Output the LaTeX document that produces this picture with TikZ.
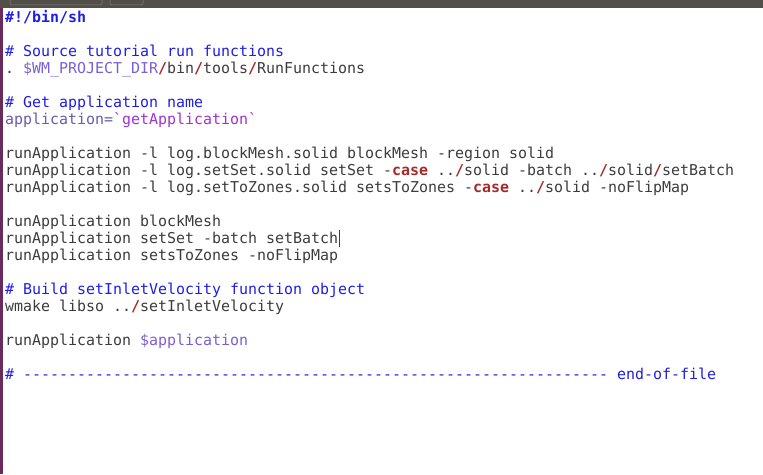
\documentclass[tikz,border=0pt]{standalone}
\usepackage{fontspec}
\setmonofont{DejaVu Sans Mono}
\usepackage{tikz}

\definecolor{barcolor}{HTML}{524E48}
\definecolor{tabcolor}{HTML}{6E6961}
\definecolor{sidebar}{HTML}{6B2A5E}
\definecolor{codetext}{HTML}{3C3C3C}
\definecolor{cmtblue}{HTML}{1E1EE6}
\definecolor{varslate}{HTML}{7A5FD6}
\definecolor{assignslate}{HTML}{6A5AB0}
\definecolor{substpurple}{HTML}{A032D2}
\definecolor{slashred}{HTML}{A52A2A}

\newcommand\cmt[1]{\textcolor{cmtblue}{#1}}
\newcommand\shvar[1]{\textcolor{varslate}{#1}}
\newcommand\assign[1]{\textcolor{assignslate}{#1}}
\newcommand\subst[1]{\textcolor{substpurple}{#1}}
\newcommand\kwd[1]{\textcolor{slashred}{\bfseries #1}}
\newcommand\slsh{\textcolor{slashred}{\bfseries /}}

\tikzset{
  codeline/.style = {anchor=base west, inner sep=0pt,
                     font=\ttfamily\fontsize{14.95}{17}\selectfont,
                     text=codetext},
  tabline/.style  = {draw=tabcolor, line width=1pt, rounded corners=2pt},
  cursor/.style   = {draw=codetext, line width=0.8pt}
}

\begin{document}
\begin{tikzpicture}[x=1pt,y=1pt]
  \useasboundingbox (0,0) rectangle (763,474);
  \fill[white] (0,0) rectangle (763,474);

  % editor title bar with tabs
  \fill[barcolor] (0,466) rectangle (763,474);
  \draw[tabline] (10,474) -- (10,469) -- (102,469) -- (102,474);
  \draw[tabline] (110,474) -- (110,469) -- (143,469) -- (143,474);
  \fill[sidebar] (0,0) rectangle (2.5,466);

  % script lines
  \node[codeline] (l1)  at (5,451) {\cmt{\bfseries \#!/bin/sh}};
  \node[codeline] (l3)  at (5,417) {\cmt{\# Source tutorial run functions}};
  \node[codeline] (l4)  at (5,400) {. \shvar{\$WM\_PROJECT\_DIR}\slsh bin\slsh tools\slsh RunFunctions};
  \node[codeline] (l6)  at (5,366) {\cmt{\# Get application name}};
  \node[codeline] (l7)  at (5,349) {\assign{application=}\subst{\char96 getApplication\char96}};
  \node[codeline] (l9)  at (5,315) {runApplication -l log.blockMesh.solid blockMesh -region solid};
  \node[codeline] (l10) at (5,298) {runApplication -l log.setSet.solid setSet -\kwd{case} ..\slsh solid -batch ..\slsh solid\slsh setBatch};
  \node[codeline] (l11) at (5,281) {runApplication -l log.setToZones.solid setsToZones -\kwd{case} ..\slsh solid -noFlipMap};
  \node[codeline] (l13) at (5,247) {runApplication blockMesh};
  \node[codeline] (l14) at (5,230) {runApplication setSet -batch setBatch};
  \node[codeline] (l15) at (5,213) {runApplication setsToZones -noFlipMap};
  \node[codeline] (l17) at (5,179) {\cmt{\# Build setInletVelocity function object}};
  \node[codeline] (l18) at (5,162) {wmake libso ..\slsh setInletVelocity};
  \node[codeline] (l20) at (5,128) {runApplication \shvar{\$application}};
  \node[codeline] (l22) at (5,94)  {\cmt{\# ----------------------------------------------------------------- end-of-file}};

  % text cursor
  \draw[cursor] ([xshift=0.5pt,yshift=-3pt]l14.base east) -- ([xshift=0.5pt,yshift=14pt]l14.base east);
\end{tikzpicture}
\end{document}
